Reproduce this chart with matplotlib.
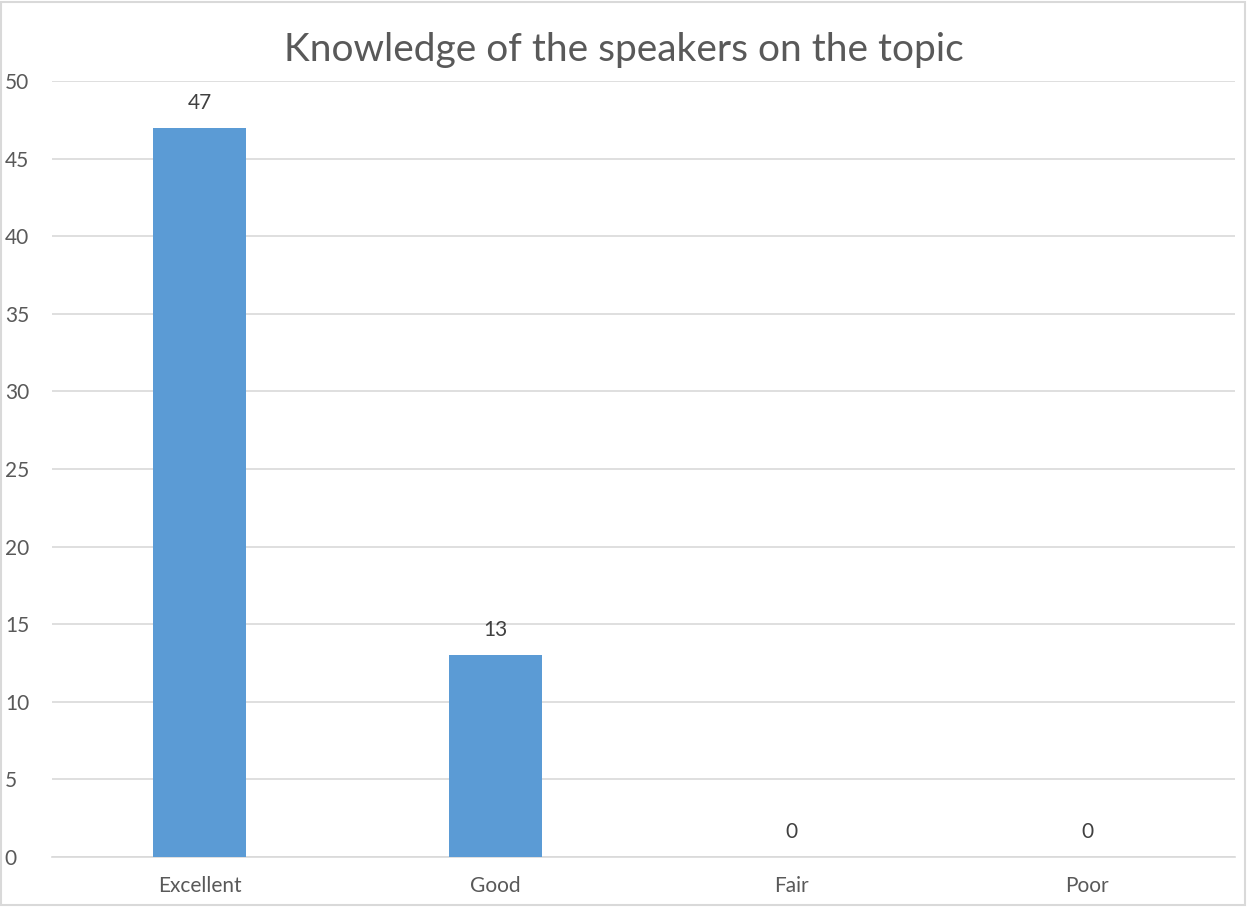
import matplotlib.pyplot as plt
from matplotlib.patches import Rectangle

categories = ['Excellent', 'Good', 'Fair', 'Poor']
counts = [47, 13, 0, 0]
yticks = [0, 5, 10, 15, 20, 25, 30, 35, 40, 45, 50]

plt.rcParams['font.family'] = ['Lato', 'DejaVu Sans']
text_color = '#595959'

fig = plt.figure(figsize=(12.47, 9.07), dpi=100)
ax = fig.add_axes([52 / 1247, 50 / 907, 1183 / 1247, 776 / 907])

x = range(len(categories))
bars = ax.bar(x, counts, width=0.315, color='#5B9BD5', zorder=3)

for b, v in zip(bars, counts):
    ax.annotate(str(v), (b.get_x() + b.get_width() / 2, v), xytext=(0, 18),
                textcoords='offset points', ha='center', va='center',
                fontsize=15, color='#404040')

ax.set_xlim(-0.5, len(categories) - 0.5)
ax.set_ylim(0, 50)
ax.set_yticks(yticks)
ax.set_xticks(list(x))
ax.set_xticklabels(categories)
ax.grid(axis='y', color='#d9d9d9', linewidth=1.2, zorder=0)
for s in ['top', 'right', 'left']:
    ax.spines[s].set_visible(False)
ax.spines['bottom'].set_color('#d9d9d9')
ax.spines['bottom'].set_linewidth(1.2)
ax.tick_params(axis='both', length=0, labelsize=15, labelcolor=text_color)
ax.tick_params(axis='y', pad=34)
ax.tick_params(axis='x', pad=14)
for lbl in ax.get_yticklabels():
    lbl.set_horizontalalignment('left')

fig.text(0.5, 1 - 50 / 907, 'Knowledge of the speakers on the topic',
         ha='center', va='center', fontsize=28, color=text_color)

fig.patches.append(Rectangle((0.001, 0.002), 0.997, 0.996, transform=fig.transFigure,
                             fill=False, edgecolor='#d9d9d9', linewidth=1.5))

fig.savefig('out.png', dpi=100)
